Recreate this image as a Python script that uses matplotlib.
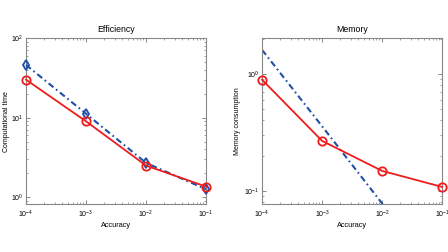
import matplotlib
matplotlib.use('Agg')
import matplotlib.pyplot as plt
import numpy as np

plt.rcParams['font.family'] = ['Liberation Sans', 'DejaVu Sans']

# accuracy levels on the x axis
accuracy = [1e-4, 1e-3, 1e-2, 1e-1]

# efficiency panel
time_red = [30, 9.0, 2.5, 1.36]
time_blue = [46, 11.2, 2.7, 1.26]

# memory panel
mem_red = [0.89, 0.267, 0.148, 0.108]
mem_blue = [1.6, 0.356, 0.078, 0.017]

red = '#ee1c1c'
blue = '#1f4fa8'
dashdot = (3, 1.6, 0.8, 1.6)

fig = plt.figure(figsize=(4.48, 2.52), dpi=100)
ax1 = fig.add_axes([0.058, 0.190, 0.402, 0.659])
ax2 = fig.add_axes([0.585, 0.190, 0.402, 0.659])


def style(ax):
    ax.set_xscale('log')
    ax.set_yscale('log')
    ax.set_xlim(1e-4, 1e-1)
    ax.set_xticks(accuracy)
    ax.tick_params(which='both', direction='in', top=True, right=True,
                   labelsize=5, color='#555555')
    ax.tick_params(axis='x', pad=3)
    ax.tick_params(axis='y', pad=2)
    ax.tick_params(which='major', length=3, width=0.5)
    ax.tick_params(which='minor', length=1.5, width=0.4)
    for s in ax.spines.values():
        s.set_color('#888888')
        s.set_linewidth(0.8)
    ax.set_xlabel('Accuracy', fontsize=5.3, labelpad=2)


ax1.plot(accuracy, time_blue, linestyle=(0, dashdot), color=blue, lw=1.5,
         marker='d', markersize=5.5, markerfacecolor='none', markeredgewidth=1.3,
         clip_on=False, zorder=3)
ax1.plot(accuracy, time_red, '-', color=red, lw=1.3,
         marker='o', markersize=6, markerfacecolor='none', markeredgewidth=1.3,
         clip_on=False, zorder=4)
style(ax1)
ax1.set_ylim(0.82, 100)
ax1.set_title('Efficiency', fontsize=6.3, pad=4)
ax1.set_ylabel('Computational time', fontsize=5, labelpad=0.5)

ax2.plot(accuracy, mem_blue, linestyle=(0, dashdot), color=blue, lw=1.5)
ax2.plot(accuracy, mem_red, '-', color=red, lw=1.3,
         marker='o', markersize=6, markerfacecolor='none', markeredgewidth=1.3,
         clip_on=False, zorder=4)
style(ax2)
ax2.set_ylim(0.077, 2.02)
ax2.set_yticks([0.1, 1])
ax2.set_title('Memory', fontsize=6.3, pad=4)
ax2.set_ylabel('Memory consumption', fontsize=5, labelpad=2)

fig.savefig('out.png', dpi=100)
